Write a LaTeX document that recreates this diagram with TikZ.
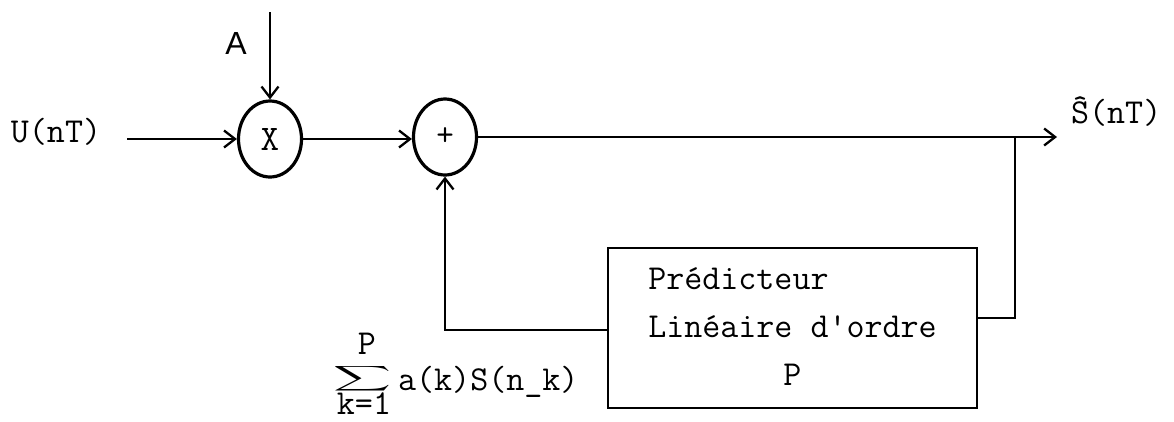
\documentclass[tikz,border=0pt]{standalone}
\usepackage{fontspec}
\usepackage{graphicx}
\newfontfamily\handfont{Liberation Sans}
\usetikzlibrary{arrows.meta,shapes.geometric}
\begin{document}
\begin{tikzpicture}[x=1pt,y=-1pt,
  line width=2.3pt,
  font=\fontsize{35}{48}\selectfont\ttfamily,
  junction/.style={draw, ellipse, line width=3.2pt, minimum width=63pt, minimum height=76pt, inner sep=0pt},
  block/.style={draw, line width=2.3pt, inner sep=0pt},
  sig/.style={-{Straight Barb[length=11pt,width=17pt,line width=2.3pt]}},
  lbl/.style={inner sep=0pt}]
\useasboundingbox (0,0) rectangle (1174,421);
\fill[white] (0,0) rectangle (1174,421);

% summing / multiplying junctions
\node[junction] (mul) at (270,139) {\fontsize{36}{36}\selectfont X};
\node[junction] (add) at (445,137) {\fontsize{34}{34}\selectfont +};

% predictor block
\node[block, minimum width=369pt, minimum height=160pt] (pred) at (792.5,328)
  {\begin{tabular}{@{}l@{}}Prédicteur\\Linéaire d'ordre\\\multicolumn{1}{@{}c@{}}{P}\end{tabular}};

% labels
\node[lbl] (ulab) at (56,132) {U(nT)};
\node[lbl] (alab) at (236,43) {\handfont\fontsize{32}{32}\selectfont A};
\node[lbl, anchor=west] (slab) at (1070,112) {\^{S}(nT)};

% sum expression
\node[lbl] (sigma) at (363,379) {\resizebox*{58pt}{28pt}{\fontsize{10}{12}\selectfont$\displaystyle\sum$}};
\node[lbl] (sup) at (367,344) {P};
\node[lbl] (sub) at (364,404) {k=1};
\node[lbl, anchor=west] (term) at (397,382) {a(k)S(n\_k)};

% free ends
\coordinate (uin) at (127,139);
\coordinate (ain) at (270,12);
\coordinate (out) at (1057,137);
\coordinate (br) at (1015,137);

% connectors
\draw[sig] (uin) -- (mul.west);
\draw[sig] (ain) -- (mul.north);
\draw[sig] (mul.east) -- (add.west |- mul.east);
\draw[sig] (add.east) -- (out);
\draw (br) |- ([yshift=10pt]pred.east);
\draw[sig] ([yshift=-2pt]pred.west) -| (add.south);
\end{tikzpicture}
\end{document}
